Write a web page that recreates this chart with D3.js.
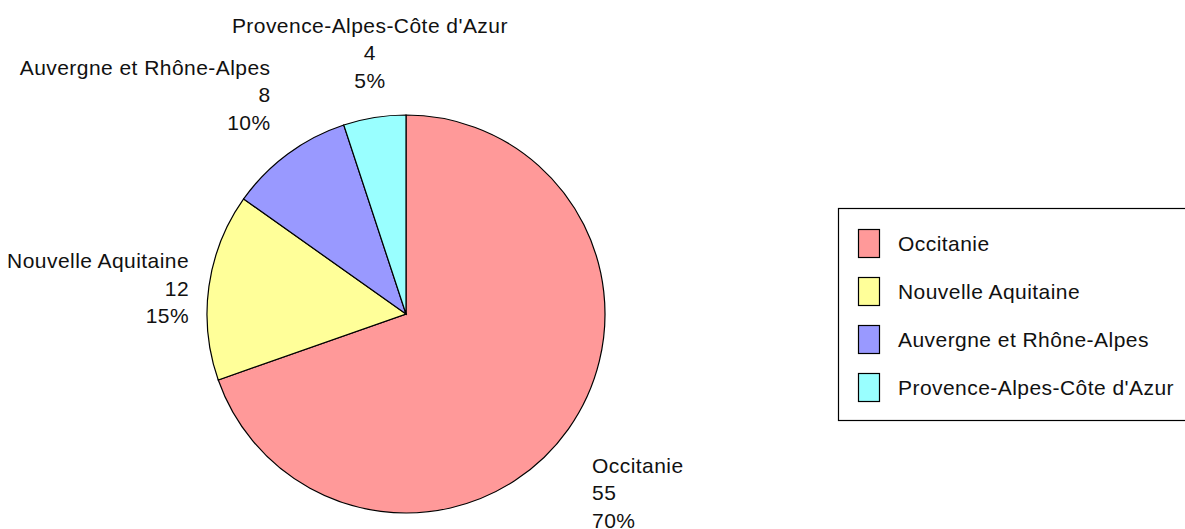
<!DOCTYPE html>
<html>
<head>
<meta charset="utf-8">
<title>Pie</title>
<script src="https://d3js.org/d3.v7.min.js"></script>
<style>
  body { margin: 0; background: #fff; }
  svg { display: block; }
  text { font-family: "Liberation Sans", Arial, sans-serif; font-size: 21px; letter-spacing: 0.45px; fill: #111; }
</style>
</head>
<body>
<svg id="chart" width="1185" height="529"></svg>
<script>
// data
var regions = ["Occitanie", "Nouvelle Aquitaine", "Auvergne et Rhône-Alpes", "Provence-Alpes-Côte d'Azur"];
var counts = [55, 12, 8, 4];
var colors = ["#ff9999", "#ffff99", "#9999ff", "#99ffff"];

var svg = d3.select("#chart");
var cx = 406, cy = 314, r = 199, lr = 228, lh = 27.5;
var total = d3.sum(counts);

var pie = d3.pie().sort(null).value(function(d){ return d.v; });
var arcs = pie(regions.map(function(n, i){ return {name: n, v: counts[i], c: colors[i]}; }));
var arc = d3.arc().innerRadius(0).outerRadius(r);

var g = svg.append("g").attr("transform", "translate(" + cx + "," + cy + ")");
g.selectAll("path").data(arcs).join("path")
  .attr("d", arc)
  .attr("fill", function(d){ return d.data.c; })
  .attr("stroke", "#000")
  .attr("stroke-width", 1.2);

// labels round the pie
arcs.forEach(function(d){
  var a = (d.startAngle + d.endAngle) / 2;
  var s = Math.sin(a), c = -Math.cos(a);
  var side = Math.abs(c) < 0.3;
  var rr = side ? r + 20 : lr;
  var px = rr * s, py = rr * c;
  var anchor = Math.abs(s) < 0.3 ? "middle" : (s > 0 ? "start" : "end");
  var lines = [d.data.name, d.data.v, Math.round(d.data.v / total * 100) + "%"];
  var y0;
  if (side) y0 = py + 12 - lh;                    // centred
  else if (c < 0) y0 = py - 2 * lh - 1;           // block above the point
  else y0 = py + 27;                              // block below the point
  var t = g.append("text").attr("text-anchor", anchor);
  lines.forEach(function(l, i){
    t.append("tspan").attr("x", px).attr("y", y0 + i * lh).text(l);
  });
});

// legend
var lg = svg.append("g");
lg.append("rect").attr("x", 838.5).attr("y", 208.5).attr("width", 360).attr("height", 212)
  .attr("fill", "#fff").attr("stroke", "#000").attr("stroke-width", 1.2);
var item = lg.selectAll("g.item").data(arcs).join("g").attr("class", "item")
  .attr("transform", function(d, i){ return "translate(858," + (229 + i * 48) + ")"; });
item.append("rect").attr("x", 0.5).attr("y", 0.5).attr("width", 21).attr("height", 28)
  .attr("fill", function(d){ return d.data.c; }).attr("stroke", "#000").attr("stroke-width", 1.2);
item.append("text").attr("x", 40).attr("y", 21.5).text(function(d){ return d.data.name; });
</script>
</body>
</html>
